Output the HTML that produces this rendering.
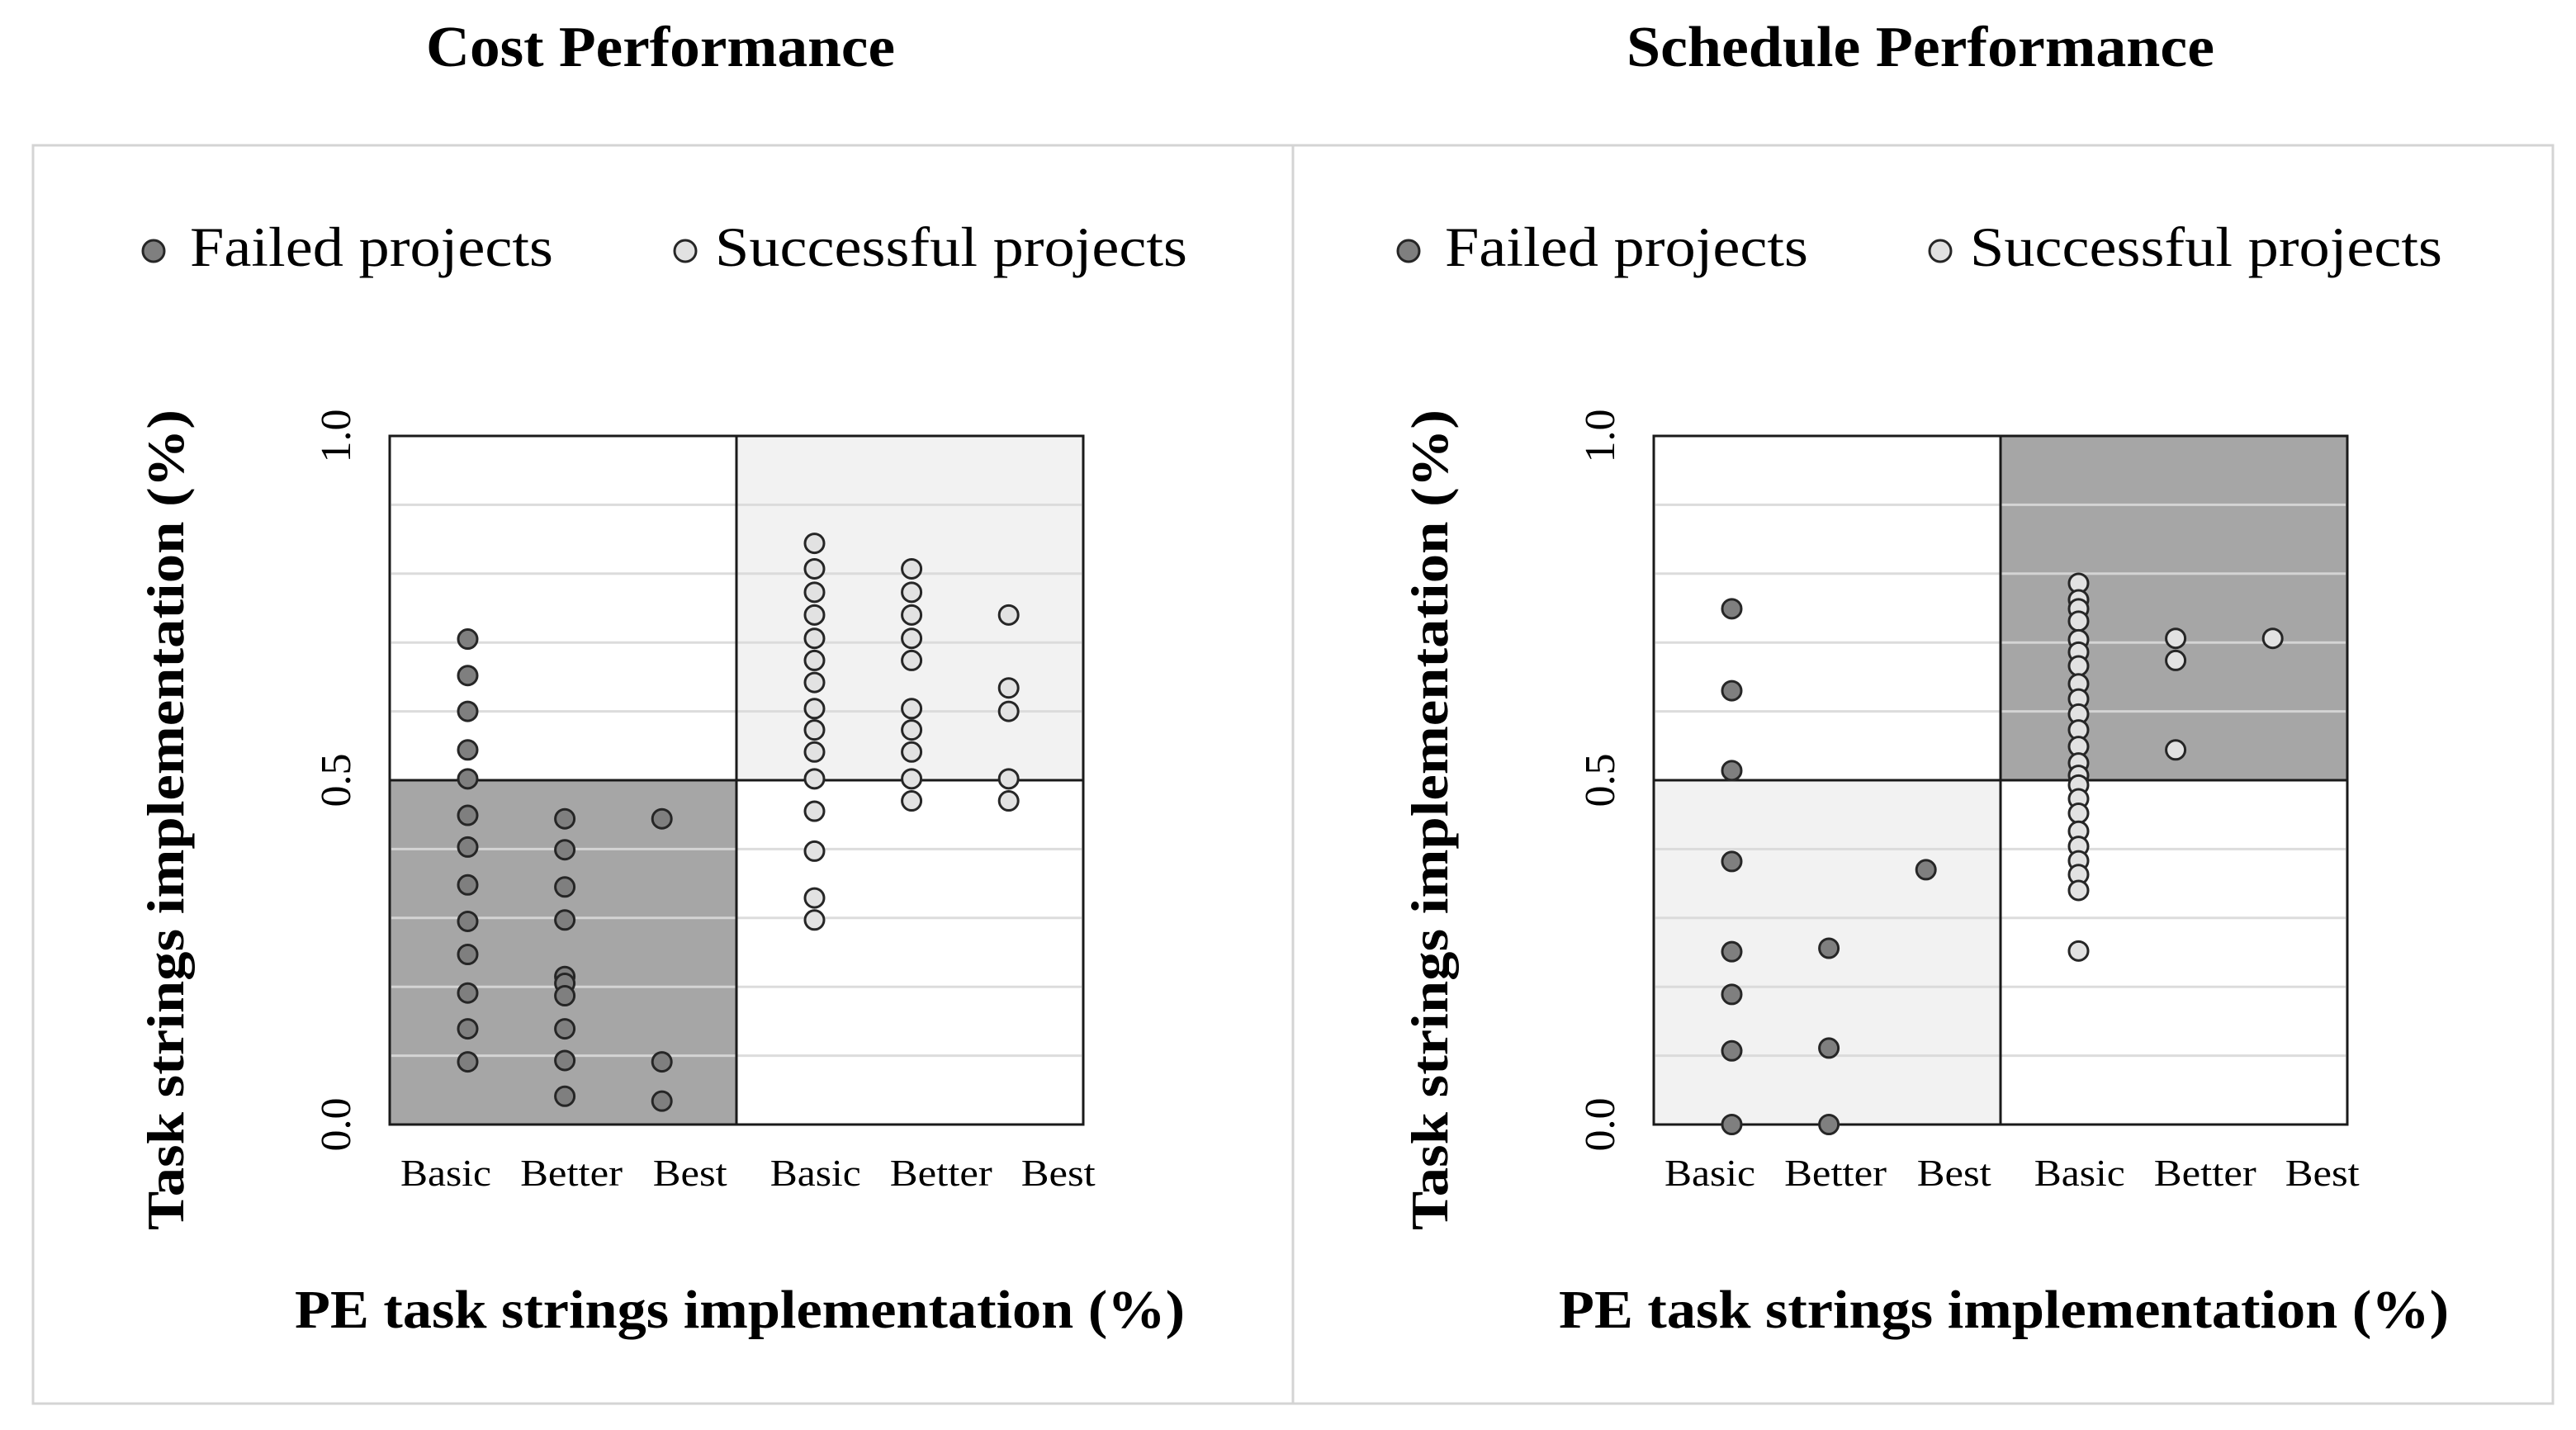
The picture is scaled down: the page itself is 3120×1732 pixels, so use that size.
<!DOCTYPE html>
<html><head><meta charset="utf-8"><style>
html,body{margin:0;padding:0;background:#fff}
svg{display:block}
text{font-family:"Liberation Serif",serif;fill:#000}
</style></head><body>
<svg id="fig" width="3120" height="1732" viewBox="0 0 3120 1732" xmlns="http://www.w3.org/2000/svg">
<rect x="40" y="176" width="1526" height="1524" fill="#fff" stroke="#d4d4d4" stroke-width="3"/>
<rect x="1566" y="176" width="1526" height="1524" fill="#fff" stroke="#d4d4d4" stroke-width="3"/>
<text x="800" y="80" font-size="70" font-weight="bold" text-anchor="middle" textLength="568" lengthAdjust="spacingAndGlyphs">Cost Performance</text>
<text x="2326" y="80" font-size="70" font-weight="bold" text-anchor="middle" textLength="712" lengthAdjust="spacingAndGlyphs">Schedule Performance</text>
<g id="cost"></g>
<g id="sched"></g>
</svg>
<script>
const catLabels = ["Basic","Better","Best","Basic","Better","Best"];
const yTicks = [0.0, 0.5, 1.0];
const tickText = ["0.0","0.5","1.0"];
// Cost performance
const costFailedBasic = [0.705,0.652,0.600,0.544,0.502,0.449,0.403,0.348,0.295,0.247,0.191,0.139,0.091];
const costFailedBetter = [0.444,0.399,0.345,0.297,0.215,0.205,0.187,0.139,0.093,0.041];
const costFailedBest = [0.444,0.091,0.034];
const costSuccBasic = [0.844,0.807,0.773,0.740,0.706,0.674,0.642,0.604,0.573,0.541,0.502,0.455,0.397,0.329,0.297];
const costSuccBetter = [0.807,0.773,0.740,0.706,0.674,0.604,0.573,0.541,0.502,0.470];
const costSuccBest = [0.740,0.634,0.600,0.502,0.470];
// Schedule performance
const schFailedBasic = [0.749,0.630,0.514,0.382,0.251,0.189,0.107,0.0];
const schFailedBetter = [0.256,0.111,0.0];
const schFailedBest = [0.370];
const schSuccBasic = [0.786,0.762,0.749,0.731,0.704,0.686,0.666,0.640,0.618,0.596,0.573,0.549,0.525,0.507,0.493,0.473,0.452,0.426,0.404,0.383,0.363,0.340,0.252];
const schSuccBetter = [0.706,0.674,0.544];
const schSuccBest = [0.706];

const NS="http://www.w3.org/2000/svg";
function mk(parent,tag,attrs){const e=document.createElementNS(NS,tag);for(const k in attrs)e.setAttribute(k,attrs[k]);parent.appendChild(e);return e;}
const catOffsets=[0.225,0.505,0.785];
const labFrac=[0.081,0.262,0.433,0.614,0.795,0.964];

function drawChart(g, L, mirror, series, legendX){
  const R=L+840, T=528, B=1362, M=(L+R)/2;
  const y=v=>B-(B-T)*v;
  const x=i=>{const half=i<3?L:M;return half+(M-L)*catOffsets[i%3];};
  const dark="#a6a6a6", light="#f2f2f2";
  let q;
  q=mk(g,'rect',{x:L,y:T,width:M-L,height:y(0.5)-T,fill:'#fff'});
  
  
  q=mk(g,'rect',{x:M,y:T,width:R-M,height:y(0.5)-T,fill:mirror?dark:light});
  
  
  q=mk(g,'rect',{x:L,y:y(0.5),width:M-L,height:B-y(0.5),fill:mirror?light:dark});
  
  
  q=mk(g,'rect',{x:M,y:y(0.5),width:R-M,height:B-y(0.5),fill:'#fff'});
  
  
  for(let k=1;k<10;k++){if(k===5)continue;
    const ln=mk(g,'line',{x1:L+2,x2:R-2,y1:y(k/10),y2:y(k/10),stroke:'#d9d9d9','stroke-width':3,opacity:0.9});
    
    }
  let a=mk(g,'line',{x1:M,x2:M,y1:T,y2:B,stroke:'#1a1a1a','stroke-width':3});
  
  
  a=mk(g,'line',{x1:L,x2:R,y1:y(0.5),y2:y(0.5),stroke:'#1a1a1a','stroke-width':3});
  
  
  a=mk(g,'rect',{x:L,y:T,width:R-L,height:B-T,fill:'none',stroke:'#1a1a1a','stroke-width':3});
  
  
  series.forEach((s)=>{s.vals.forEach(v=>{
    const c=mk(g,'circle',{cx:x(s.cat),cy:y(v),r:11.5,fill:s.failed?'#7f7f7f':'#e2e2e2',stroke:'#262626','stroke-width':3});
    
    
  });});
  yTicks.forEach((v,i)=>{
    const t=mk(g,'text',{x:0,y:0,'font-size':52,'text-anchor':'middle',transform:`translate(${L-48},${y(v)}) rotate(-90)`});
    t.textContent=tickText[i];
    
    
  });
  catLabels.forEach((c,i)=>{
    const t=mk(g,'text',{x:L+840*labFrac[i],y:1436,'font-size':46,'text-anchor':'middle',textLength:c==='Better'?124:(c==='Basic'?110:90),lengthAdjust:'spacingAndGlyphs'});
    t.textContent=c;
    
    
  });
  const yt=mk(g,'text',{x:0,y:0,'font-size':64,'font-weight':'bold','text-anchor':'middle',textLength:994,lengthAdjust:'spacingAndGlyphs',transform:`translate(${L-250},${993}) rotate(-90)`});
  yt.textContent='Task strings implementation (%)';
  
  
  const xt=mk(g,'text',{x:L+424,y:1608,'font-size':66,'font-weight':'bold','text-anchor':'middle',textLength:1078,lengthAdjust:'spacingAndGlyphs'});
  xt.textContent='PE task strings implementation (%)';
  
  
  let d=mk(g,'circle',{cx:legendX,cy:304,r:13,fill:'#7f7f7f',stroke:'#262626','stroke-width':3});
  
  
  let lt=mk(g,'text',{x:legendX+44,y:322,'font-size':68,textLength:440,lengthAdjust:'spacingAndGlyphs'});
  lt.textContent='Failed projects';
  
  
  d=mk(g,'circle',{cx:legendX+644,cy:304,r:13,fill:'#e2e2e2',stroke:'#262626','stroke-width':3});
  
  
  lt=mk(g,'text',{x:legendX+680,y:322,'font-size':68,textLength:572,lengthAdjust:'spacingAndGlyphs'});
  lt.textContent='Successful projects';
  
  
}
drawChart(document.getElementById('cost'),472,false,[
  {cat:0,vals:costFailedBasic,failed:true},{cat:1,vals:costFailedBetter,failed:true},{cat:2,vals:costFailedBest,failed:true},
  {cat:3,vals:costSuccBasic,failed:false},{cat:4,vals:costSuccBetter,failed:false},{cat:5,vals:costSuccBest,failed:false}],186);
drawChart(document.getElementById('sched'),2003,true,[
  {cat:0,vals:schFailedBasic,failed:true},{cat:1,vals:schFailedBetter,failed:true},{cat:2,vals:schFailedBest,failed:true},
  {cat:3,vals:schSuccBasic,failed:false},{cat:4,vals:schSuccBetter,failed:false},{cat:5,vals:schSuccBest,failed:false}],1706);
</script>
</body></html>
